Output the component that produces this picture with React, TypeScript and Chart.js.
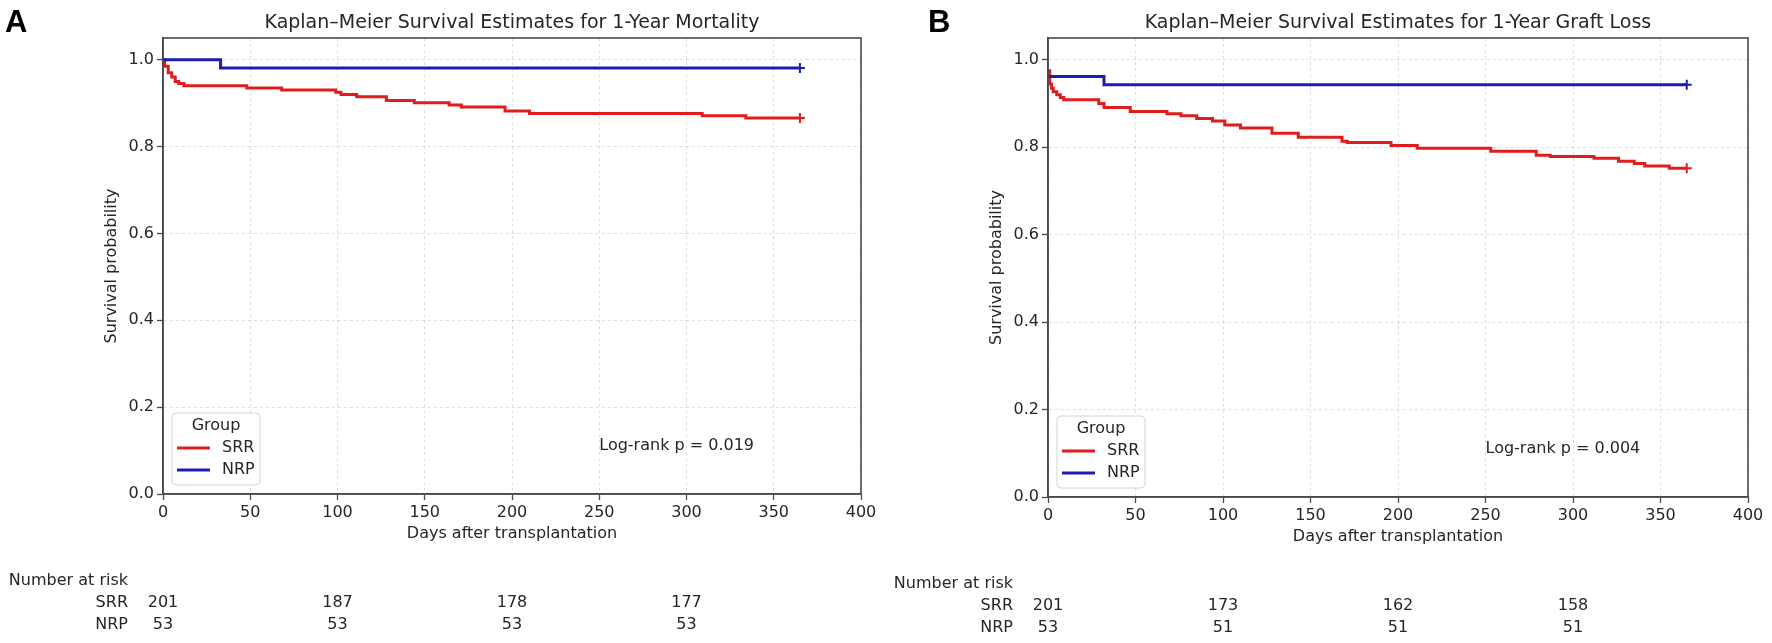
import React, { useEffect, useRef } from 'react';
import { Chart, registerables } from 'chart.js';

Chart.register(...registerables);

const FONT = "'DejaVu Sans', 'Liberation Sans', sans-serif";
const TEXT = '#262626';
const RED = '#e01c1c';
const BLUE = '#1c1cb4';
const SPINE = '#4a4a4a';

const X_TICKS = [0, 50, 100, 150, 200, 250, 300, 350, 400];
const Y_TICKS = [0, 0.2, 0.4, 0.6, 0.8, 1.0];
const AT_RISK_DAYS = [0, 100, 200, 300];
const GROUPS = ['SRR', 'NRP'];
const P_TEXT_POS = [250, 0.11];

// Panel A: 1-year mortality
const MORT_SRR_DAYS = [0, 1, 3, 5, 7, 9, 12, 48, 68, 99, 102, 111, 128, 144, 164, 171, 196, 210, 309, 334, 365];
const MORT_SRR_SURV = [1.0, 0.985, 0.97, 0.96, 0.95, 0.945, 0.94, 0.935, 0.93, 0.925, 0.92, 0.915, 0.906, 0.901, 0.896, 0.891, 0.882, 0.876, 0.871, 0.866, 0.866];
const MORT_NRP_DAYS = [0, 33, 365];
const MORT_NRP_SURV = [1.0, 0.981, 0.981];
const MORT_RISK_SRR = [201, 187, 178, 177];
const MORT_RISK_NRP = [53, 53, 53, 53];

// Panel B: 1-year graft loss
const GRAFT_SRR_DAYS = [0, 1, 2, 3, 5, 7, 9, 29, 32, 47, 68, 76, 85, 94, 101, 110, 128, 143, 168, 171, 196, 211, 253, 279, 287, 312, 326, 335, 341, 355, 365];
const GRAFT_SRR_SURV = [0.975, 0.945, 0.935, 0.927, 0.92, 0.914, 0.909, 0.9, 0.891, 0.882, 0.877, 0.872, 0.866, 0.86, 0.851, 0.844, 0.832, 0.823, 0.814, 0.811, 0.804, 0.798, 0.791, 0.782, 0.779, 0.775, 0.768, 0.763, 0.757, 0.752, 0.752];
const GRAFT_NRP_DAYS = [0, 32, 365];
const GRAFT_NRP_SURV = [0.962, 0.943, 0.943];
const GRAFT_RISK_SRR = [201, 173, 162, 158];
const GRAFT_RISK_NRP = [53, 51, 51, 51];

const PANEL_W = 886;
const PANEL_H = 643;

const panelDecor = {
  id: 'panelDecor',
  afterDraw(chart: any, _args: any, opts: any) {
    const { ctx, chartArea: a, scales } = chart;
    const xs = scales.x;
    const ys = scales.y;
    const cx = (a.left + a.right) / 2;
    ctx.save();

    // box around the axes
    ctx.strokeStyle = SPINE;
    ctx.lineWidth = 1.6;
    ctx.strokeRect(a.left, a.top, a.right - a.left, a.bottom - a.top);

    // panel letter
    ctx.fillStyle = '#000';
    ctx.font = `bold 31px 'Liberation Sans', Arial, sans-serif`;
    ctx.textAlign = 'left';
    ctx.textBaseline = 'alphabetic';
    ctx.fillText(opts.letter, opts.letterX, 32);

    // title
    ctx.fillStyle = TEXT;
    ctx.font = `19px ${FONT}`;
    ctx.textAlign = 'center';
    ctx.textBaseline = 'middle';
    ctx.fillText(opts.title, cx, a.top - 15);

    // axis titles
    ctx.font = `16px ${FONT}`;
    ctx.fillText('Days after transplantation', cx, a.bottom + 40);
    ctx.save();
    ctx.translate(a.left - 51, (a.top + a.bottom) / 2);
    ctx.rotate(-Math.PI / 2);
    ctx.fillText('Survival probability', 0, 0);
    ctx.restore();

    // log-rank p
    ctx.textAlign = 'left';
    ctx.fillText(opts.pText, xs.getPixelForValue(P_TEXT_POS[0]), ys.getPixelForValue(P_TEXT_POS[1]));

    // legend
    const lx = a.left + 9;
    const lw = 88;
    const ly = a.bottom - 81;
    const lh = 72;
    ctx.beginPath();
    ctx.roundRect(lx, ly, lw, lh, 4);
    ctx.fillStyle = 'rgba(255,255,255,0.85)';
    ctx.fill();
    ctx.strokeStyle = '#d4d4d4';
    ctx.lineWidth = 1;
    ctx.stroke();
    ctx.fillStyle = TEXT;
    ctx.textAlign = 'center';
    ctx.fillText('Group', lx + lw / 2, ly + 13);
    [RED, BLUE].forEach((col, i) => {
      const y = ly + 35 + i * 22;
      ctx.strokeStyle = col;
      ctx.lineWidth = 3;
      ctx.beginPath();
      ctx.moveTo(lx + 5, y);
      ctx.lineTo(lx + 38, y);
      ctx.stroke();
      ctx.fillStyle = TEXT;
      ctx.textAlign = 'left';
      ctx.fillText(GROUPS[i], lx + 50, y);
    });

    // number at risk table
    const labelX = a.left - 35;
    ctx.fillStyle = TEXT;
    ctx.textAlign = 'right';
    ctx.fillText('Number at risk', labelX, a.bottom + 87);
    [opts.riskSrr, opts.riskNrp].forEach((row: number[], i: number) => {
      const y = a.bottom + 109 + i * 22;
      ctx.textAlign = 'right';
      ctx.fillText(GROUPS[i], labelX, y);
      ctx.textAlign = 'center';
      row.forEach((n, j) => ctx.fillText(String(n), xs.getPixelForValue(AT_RISK_DAYS[j]), y));
    });

    ctx.restore();
  },
};

interface PanelProps {
  letter: string;
  letterX: number;
  title: string;
  pText: string;
  srrDays: number[];
  srrSurv: number[];
  nrpDays: number[];
  nrpSurv: number[];
  riskSrr: number[];
  riskNrp: number[];
  area: { left: number; right: number; top: number; bottom: number };
}

const KMPanel: React.FC<PanelProps> = (props) => {
  const canvasRef = useRef<HTMLCanvasElement>(null);
  const chartRef = useRef<Chart | null>(null);

  useEffect(() => {
    if (!canvasRef.current) return;
    if (chartRef.current) chartRef.current.destroy();
    const ctx = canvasRef.current.getContext('2d');
    if (!ctx) return;

    const { area } = props;
    const curve = (days: number[], surv: number[], color: string, order: number) => ({
      label: '',
      data: days.map((d, i) => ({ x: d, y: surv[i] })),
      borderColor: color,
      backgroundColor: color,
      borderWidth: 3,
      stepped: 'before' as const,
      fill: false,
      order,
      pointStyle: 'cross' as const,
      pointRadius: (c: any) => (c.dataIndex === days.length - 1 ? 5 : 0),
      pointHoverRadius: 0,
      pointBorderWidth: 2,
      pointBorderColor: color,
    });

    const gridOpts = {
      color: 'rgba(0,0,0,0.13)',
      lineWidth: 1,
      tickColor: SPINE,
      tickLength: 6,
      tickWidth: 1.3,
    };
    const tickFont = { family: FONT, size: 16 };

    chartRef.current = new Chart(ctx, {
      type: 'line',
      data: {
        datasets: [
          curve(props.srrDays, props.srrSurv, RED, 1),
          curve(props.nrpDays, props.nrpSurv, BLUE, 0),
        ],
      },
      options: {
        animation: false,
        responsive: true,
        maintainAspectRatio: false,
        events: [],
        layout: {
          padding: { left: 0, top: area.top, right: PANEL_W - area.right, bottom: 0 },
        },
        plugins: {
          legend: { display: false },
          tooltip: { enabled: false },
          panelDecor: {
            letter: props.letter,
            letterX: props.letterX,
            title: props.title,
            pText: props.pText,
            riskSrr: props.riskSrr,
            riskNrp: props.riskNrp,
          },
        } as any,
        scales: {
          x: {
            type: 'linear',
            min: 0,
            max: 400,
            afterBuildTicks: (axis: any) => {
              axis.ticks = X_TICKS.map((v) => ({ value: v }));
            },
            afterFit: (axis: any) => {
              axis.height = PANEL_H - area.bottom;
            },
            ticks: { color: TEXT, font: tickFont, padding: 3, maxRotation: 0 },
            grid: gridOpts,
            border: { display: true, color: SPINE, width: 1.6, dash: [3, 3] },
          },
          y: {
            type: 'linear',
            min: 0,
            max: 1.05,
            afterBuildTicks: (axis: any) => {
              axis.ticks = Y_TICKS.map((v) => ({ value: v }));
            },
            afterFit: (axis: any) => {
              axis.width = area.left;
            },
            ticks: {
              color: TEXT,
              font: tickFont,
              padding: 3,
              callback: (v: any) => Number(v).toFixed(1),
            },
            grid: gridOpts,
            border: { display: true, color: SPINE, width: 1.6, dash: [3, 3] },
          },
        },
      },
      plugins: [panelDecor],
    });

    return () => {
      chartRef.current?.destroy();
      chartRef.current = null;
    };
  }, []);

  return (
    <div style={{ position: 'relative', width: PANEL_W, height: PANEL_H }}>
      <canvas ref={canvasRef} />
    </div>
  );
};

const App: React.FC = () => {
  useEffect(() => {
    document.body.style.margin = '0';
  }, []);

  return (
    <div style={{ display: 'flex', width: PANEL_W * 2, height: PANEL_H, background: '#fff' }}>
      <KMPanel
        letter="A"
        letterX={5}
        title="Kaplan–Meier Survival Estimates for 1-Year Mortality"
        pText="Log-rank p = 0.019"
        srrDays={MORT_SRR_DAYS}
        srrSurv={MORT_SRR_SURV}
        nrpDays={MORT_NRP_DAYS}
        nrpSurv={MORT_NRP_SURV}
        riskSrr={MORT_RISK_SRR}
        riskNrp={MORT_RISK_NRP}
        area={{ left: 163, right: 861, top: 38, bottom: 494 }}
      />
      <KMPanel
        letter="B"
        letterX={42}
        title="Kaplan–Meier Survival Estimates for 1-Year Graft Loss"
        pText="Log-rank p = 0.004"
        srrDays={GRAFT_SRR_DAYS}
        srrSurv={GRAFT_SRR_SURV}
        nrpDays={GRAFT_NRP_DAYS}
        nrpSurv={GRAFT_NRP_SURV}
        riskSrr={GRAFT_RISK_SRR}
        riskNrp={GRAFT_RISK_NRP}
        area={{ left: 162, right: 862, top: 38, bottom: 497 }}
      />
    </div>
  );
};

export default App;
